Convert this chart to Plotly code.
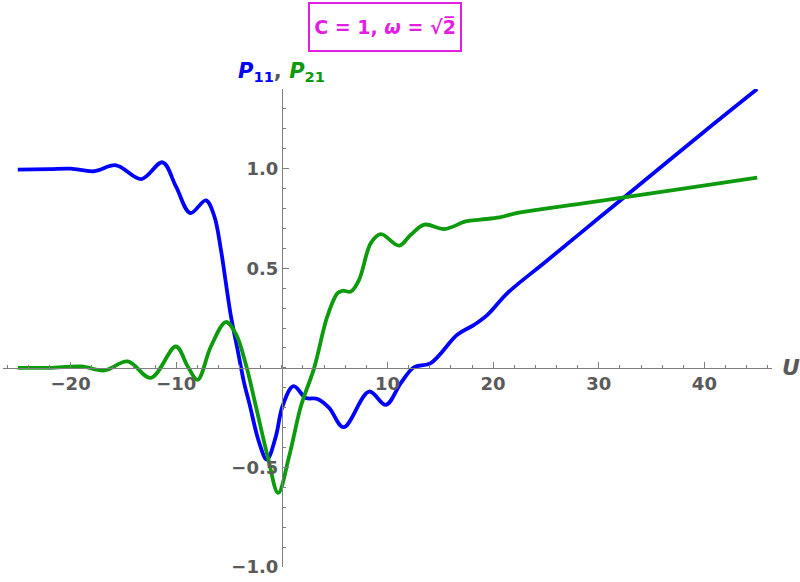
import plotly.graph_objects as go

# P11 (blue)
u_p11 = [-25, -22, -20, -17.8, -15.7, -13.3, -11.3, -10.03, -8.67, -7.19, -6.4,
         -5.77, -5.3, -4.82, -4.19, -3.57, -3.09, -2.14, -1.42, -0.57, 0.06, 1.1,
         2.27, 3.38, 4.48, 5.84, 8.26, 9.84, 11.26, 12.5, 14.1, 16.6, 18.2, 19.46,
         21.35, 25, 30, 35, 40, 45]
p11 = [0.995, 0.998, 1.0, 0.987, 1.017, 0.948, 1.032, 0.911, 0.777, 0.841, 0.762,
       0.593, 0.426, 0.258, 0.09, -0.077, -0.176, -0.377, -0.461, -0.344, -0.193, -0.092,
       -0.151, -0.156, -0.201, -0.298, -0.119, -0.186, -0.077, 0.003, 0.024, 0.166, 0.216, 0.266,
       0.375, 0.534, 0.752, 0.969, 1.187, 1.40]

# P21 (green)
u_p21 = [-25, -22, -19, -16.8, -14.6, -12.4, -10.03, -8.92, -7.98, -6.72, -5.3,
         -4.35, -3.4, -2.46, -1.35, -0.35, 0.69, 1.8, 3.06, 4.3, 5.27, 5.74, 6.53,
         7.31, 8.42, 9.37, 11.1, 12.2, 13.5, 15.4, 17.4, 18.8, 20.6, 22, 30, 38, 45]
p21 = [0.0, 0.0, 0.007, -0.013, 0.032, -0.05, 0.107, 0.008, -0.06, 0.107, 0.23,
       0.17, 0.015, -0.193, -0.444, -0.628, -0.444, -0.193, 0.0, 0.258, 0.375, 0.387, 0.383,
       0.442, 0.626, 0.671, 0.614, 0.668, 0.719, 0.697, 0.735, 0.744, 0.755, 0.774, 0.837, 0.900, 0.955]

x_ticks = [-20, -10, 10, 20, 30, 40]
y_ticks = [-1.0, -0.5, 0.5, 1.0]

x_range = [-26.4, 46.4]
y_range = [-1.0, 1.4]

BLUE = "#0000ff"
GREEN = "#0d9a0d"
AXIS = "#7f7f7f"
LABEL = "#5a5a5a"
MAGENTA = "#e31ee3"
FONT = "DejaVu Sans"

fig = go.Figure()
fig.add_trace(go.Scatter(x=u_p11, y=p11, mode="lines",
                         line=dict(color=BLUE, width=3.8, shape="spline", smoothing=1)))
fig.add_trace(go.Scatter(x=u_p21, y=p21, mode="lines",
                         line=dict(color=GREEN, width=3.8, shape="spline", smoothing=1)))

tickfont = dict(family=FONT, size=18, color=LABEL, weight="bold")

fig.update_xaxes(
    range=x_range, anchor="free", automargin=False,
    position=(0 - y_range[0]) / (y_range[1] - y_range[0]),
    showline=True, linecolor=AXIS, linewidth=1,
    showgrid=False, zeroline=False,
    tickmode="array", tickvals=x_ticks, ticktext=[f"{v:g}".replace("-", "\u2212") for v in x_ticks],
    ticks="inside", ticklen=6, tickcolor=AXIS, tickfont=tickfont,
    minor=dict(dtick=2, tick0=0, ticks="inside", ticklen=3, tickcolor=AXIS),
)
fig.update_yaxes(
    range=y_range, anchor="free", automargin=False,
    position=(0 - x_range[0]) / (x_range[1] - x_range[0]),
    showline=True, linecolor=AXIS, linewidth=1,
    showgrid=False, zeroline=False,
    tickmode="array", tickvals=y_ticks, ticktext=[f"{v:.1f}".replace("-", "\u2212") for v in y_ticks],
    ticks="inside", ticklen=6, tickcolor=AXIS, tickfont=tickfont,
    minor=dict(dtick=0.1, tick0=0, ticks="inside", ticklen=3, tickcolor=AXIS),
)

fig.add_annotation(x=x_range[1], y=0, xref="x", yref="y", text="<b><i>U</i></b>",
                   showarrow=False, xanchor="left", yanchor="middle", xshift=8,
                   font=dict(family=FONT, size=22, color=LABEL))

fig.add_annotation(
    x=0, y=1, xref="x", yref="paper", showarrow=False, xanchor="center", yanchor="bottom", yshift=2,
    text=(f"<b><i><span style='color:{BLUE}'>P</span></i><span style='color:{BLUE}'><sub>11</sub></span>"
          f"<span style='color:{LABEL}'>, </span>"
          f"<i><span style='color:{GREEN}'>P</span></i><span style='color:{GREEN}'><sub>21</sub></span></b>"),
    font=dict(family=FONT, size=21),
)

fig.add_annotation(
    x=0.4967, y=1, xref="paper", yref="paper", yanchor="bottom", yshift=37,
    showarrow=False, text="<b>C = 1, <i>\u03c9</i> = \u221a2\u0305</b>",
    font=dict(family=FONT, size=19, color=MAGENTA),
    bordercolor=MAGENTA, borderwidth=2, borderpad=0, width=150, height=46,
)

fig.update_layout(
    width=800, height=582,
    margin=dict(l=3, r=28, t=89, b=15),
    paper_bgcolor="white", plot_bgcolor="white",
    showlegend=False,
)

fig.write_html("out.html", config={"displayModeBar": False},
               post_script="document.body.style.margin='0px';")
